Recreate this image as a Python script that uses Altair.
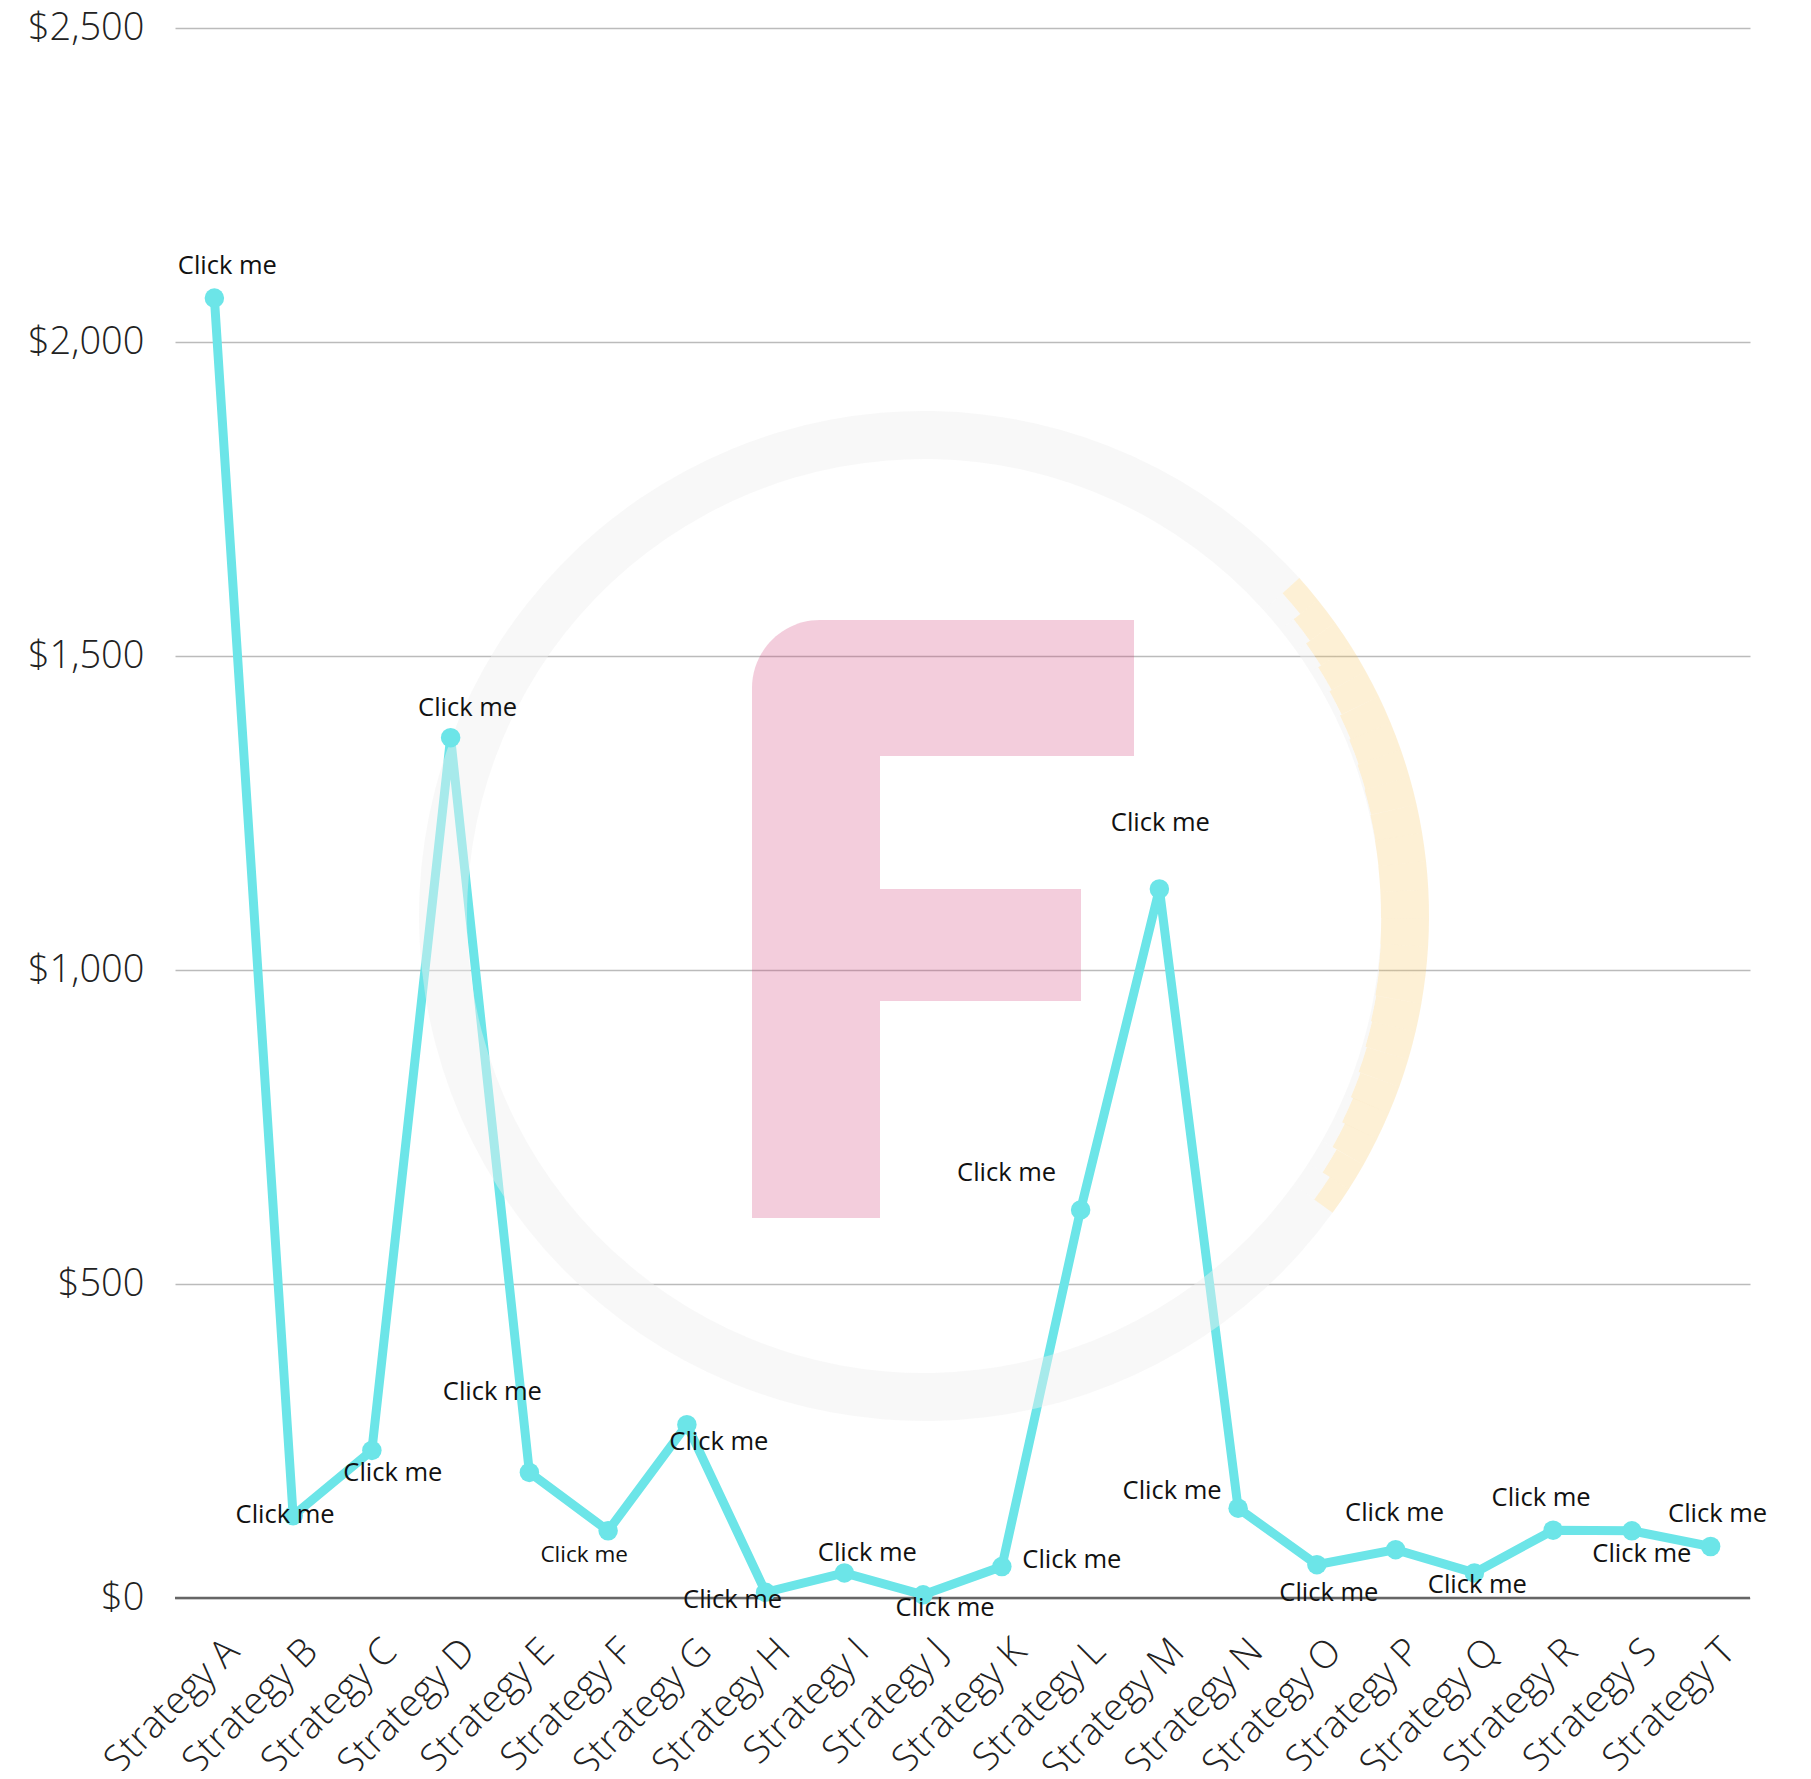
import math
import altair as alt
import pandas as pd

# ---- data ----
categories = ["Strategy A", "Strategy B", "Strategy C", "Strategy D", "Strategy E",
              "Strategy F", "Strategy G", "Strategy H", "Strategy I", "Strategy J",
              "Strategy K", "Strategy L", "Strategy M", "Strategy N", "Strategy O",
              "Strategy P", "Strategy Q", "Strategy R", "Strategy S", "Strategy T"]
values = [2070, 131, 235, 1370, 200, 107, 276, 9, 40, 5,
          50, 618, 1129, 143, 53, 77, 40, 108, 107, 82]
label_text = "Click me"
y_ticks = [0, 500, 1000, 1500, 2000, 2500]

# label placement offsets (pixels, styling only)
label_dx = [13, -8, 21, 17, -37, -24, 32, -33, 23, 22,
            70, -74, 1, -66, 12, -1, 3, -12, 10, 7]
label_dy = [-32, -1, 23, -30, -80, 24, 17, 8, -20, 13,
            -7, -37, -66, -17, 28, -37, 12, -32, 23, -33]
label_size = [25.5] * 5 + [22.5] + [25.5] * 14

df = pd.DataFrame({"category": categories, "value": values,
                   "label": [label_text] * len(categories)})

LINE = "#6ce5e8"
W, H = 1575, 1570

x_enc = alt.X("category:N", sort=categories, scale=alt.Scale(type="point", padding=0.5),
              axis=alt.Axis(title=None, labelAngle=-45, labelAlign="right", labelBaseline="top",
                            labelFontSize=38, labelFont="Open Sans", labelFontWeight=300,
                            labelColor="#222", labelPadding=34, labelOffset=5, labelLimit=1000,
                            ticks=False, domain=False, grid=False, labelOverlap=False))
y_enc = alt.Y("value:Q", scale=alt.Scale(domain=[0, 2500], nice=False, zero=True),
              axis=alt.Axis(title=None, values=y_ticks, format="$,.0f", labelFontSize=38,
                            labelFont="Open Sans", labelFontWeight=300, labelColor="#222",
                            labelPadding=31, ticks=False, domain=False, grid=True,
                            gridColor="#bbbbbb", gridWidth=1.5))

base = alt.Chart(df)

line = base.mark_line(color=LINE, strokeWidth=9).encode(x=x_enc, y=y_enc)
zero = alt.Chart(pd.DataFrame({"z": [0]})).mark_rule(color="#666666", strokeWidth=2.5).encode(
    y=alt.Y("z:Q"))
pts = base.mark_circle(color=LINE, size=380, opacity=1).encode(x=x_enc, y=y_enc)

label_layers = []
for cat, dx, dy, fs in zip(categories, label_dx, label_dy, label_size):
    label_layers.append(
        base.transform_filter(alt.datum.category == cat)
        .mark_text(font="Open Sans", color="#111111", baseline="middle", align="center",
                   dx=dx, dy=dy, fontSize=fs)
        .encode(x=x_enc, y=y_enc, text="label:N")
    )

# ---- decorative watermark (logo) ----
one = pd.DataFrame({"w": [0]})
CX, CY, R_OUT, R_IN = 749, 888, 505, 457
RING_C, RING_O = "#f0f0f0", 0.45
YEL_C, YEL_O = "#f8c458", 0.25
A0, A1 = 48, 126


def arc(t0, t1, r_out, r_in, color, opacity):
    return alt.Chart(one).mark_arc(theta=math.radians(t0), theta2=math.radians(t1),
                                   radius=r_out, radius2=r_in, color=color,
                                   opacity=opacity, strokeWidth=0).encode(
        x=alt.value(CX), y=alt.value(CY))


wm_layers = [arc(A1, A0 + 360, R_OUT, R_IN, RING_C, RING_O)]
n_seg = 24
mid, half = (A0 + A1) / 2, (A1 - A0) / 2
for i in range(n_seg):
    t0 = A0 + (A1 - A0) * i / n_seg
    t1 = A0 + (A1 - A0) * (i + 1) / n_seg
    tc = (t0 + t1) / 2
    th = max(8.0, (R_OUT - R_IN) * math.sqrt(max(0.0, 1 - ((tc - mid) / half) ** 2)) ** 0.6)
    th = min(th, R_OUT - R_IN)
    wm_layers.append(arc(t0, t1, R_OUT, R_OUT - th, YEL_C, YEL_O))
    if R_OUT - th > R_IN + 0.5:
        wm_layers.append(arc(t0, t1, R_OUT - th, R_IN, RING_C, RING_O))

pink = "#d03874"
wm_layers += [
    alt.Chart(one).mark_rect(color=pink, opacity=0.25, cornerRadiusTopLeft=75).encode(
        x=alt.value(577), x2=alt.value(959), y=alt.value(592), y2=alt.value(728)),
    alt.Chart(one).mark_rect(color=pink, opacity=0.25).encode(
        x=alt.value(577), x2=alt.value(705), y=alt.value(728), y2=alt.value(1190)),
    alt.Chart(one).mark_rect(color=pink, opacity=0.25).encode(
        x=alt.value(705), x2=alt.value(906), y=alt.value(861), y2=alt.value(973)),
]

chart = alt.layer(line, zero, *wm_layers, pts, *label_layers).properties(
    width=W, height=H,
    background="white",
    autosize=alt.AutoSizeParams(type="none"),
    padding={"left": 167, "top": 20, "right": 40, "bottom": 173},
).configure_view(strokeWidth=0, stroke="transparent")

chart.save("out.html", embed_options={"renderer": "svg", "actions": False})
